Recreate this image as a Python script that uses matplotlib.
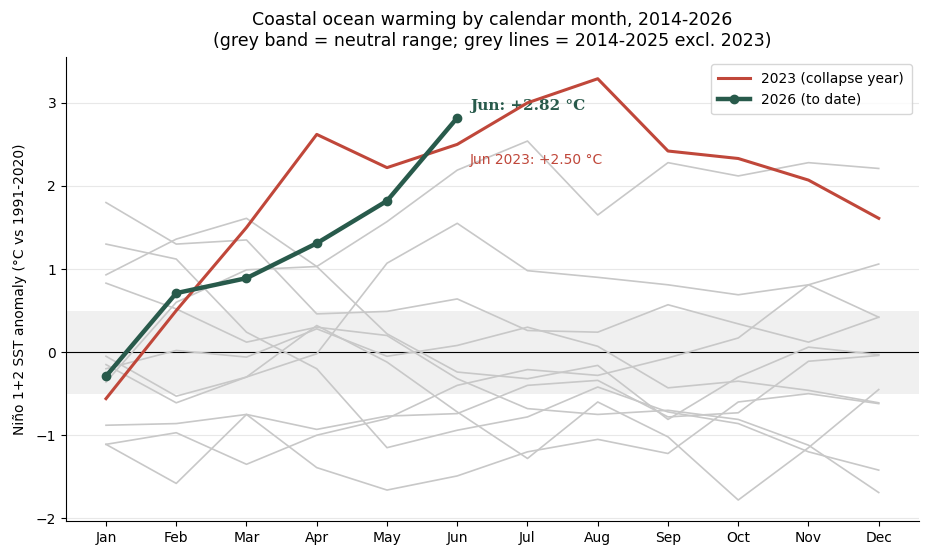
import matplotlib
matplotlib.use("Agg")
import matplotlib.pyplot as plt
import numpy as np

months = ["Jan", "Feb", "Mar", "Apr", "May", "Jun", "Jul", "Aug", "Sep", "Oct", "Nov", "Dec"]

# background years (2014-2025 excl. 2023)
g_a = [0.93, 1.36, 1.61, 1.03, 1.57, 2.19, 2.54, 1.65, 2.28, 2.12, 2.28, 2.21]
g_b = [1.80, 1.30, 1.35, 0.46, 0.49, 0.64, 0.26, 0.24, 0.57, 0.34, 0.12, 0.42]
g_c = [-0.15, -0.61, -0.30, -0.02, 1.07, 1.55, 0.98, 0.90, 0.81, 0.69, 0.81, 1.06]
g_d = [0.83, 0.52, 0.12, 0.30, 0.20, -0.32, -0.68, -0.75, -0.70, -0.81, -1.12, -1.69]
g_e = [-0.36, 0.60, 0.99, 1.03, 0.22, -0.24, -0.32, -0.16, -0.81, -0.30, 0.06, -0.03]
g_f = [1.30, 1.12, 0.24, -0.20, -1.15, -0.94, -0.78, -0.42, -0.72, -0.86, -1.20, -1.42]
g_g = [-0.20, 0.02, -0.06, 0.28, -0.05, 0.08, 0.30, 0.07, -0.43, -0.35, -0.46, -0.61]
g_h = [-0.05, -0.53, -0.30, 0.32, -0.12, -0.72, -1.28, -0.60, -1.02, -1.78, -1.15, -0.45]
g_i = [-0.88, -0.86, -0.75, -0.93, -0.77, -0.74, -0.40, -0.34, -0.78, -0.73, -0.11, -0.04]
g_j = [-1.11, -0.97, -1.35, -1.00, -0.80, -0.40, -0.21, -0.28, -0.07, 0.17, 0.81, 0.42]
g_k = [-1.11, -1.58, -0.75, -1.39, -1.66, -1.49, -1.20, -1.05, -1.22, -0.60, -0.50, -0.62]
bg_series = [g_a, g_b, g_c, g_d, g_e, g_f, g_g, g_h, g_i, g_j, g_k]

y2023 = [-0.56, 0.50, 1.50, 2.62, 2.22, 2.50, 3.00, 3.29, 2.42, 2.33, 2.07, 1.61]
y2026 = [-0.29, 0.71, 0.89, 1.31, 1.82, 2.82]

neutral_low, neutral_high = -0.5, 0.5

RED = "#c0473a"
GREEN = "#285a4b"

fig = plt.figure(figsize=(9.29, 5.6), dpi=100)
ax = fig.add_axes([0.071, 0.070, 0.918, 0.828])

x = np.arange(len(months))
ax.axhspan(neutral_low, neutral_high, color="#f0f0f0", zorder=0, lw=0)
ax.axhline(0, color="black", lw=0.8, zorder=1)

for s in bg_series:
    ax.plot(x, s, color="#c8c8c8", lw=1.2, zorder=2)

ax.plot(x, y2023, color=RED, lw=2.2, zorder=4, label="2023 (collapse year)")
ax.plot(x[:len(y2026)], y2026, color=GREEN, lw=3.2, marker="o", ms=6,
        zorder=5, label="2026 (to date)")

ax.annotate(f"Jun: +{y2026[-1]:.2f} °C", xy=(5, y2026[-1]), xytext=(9, 8.6),
            textcoords="offset points", color=GREEN, fontweight="bold",
            fontsize=11, va="center", ha="left", family="DejaVu Serif")
ax.annotate(f"Jun 2023: +{y2023[5]:.2f} °C", xy=(5, y2023[5]), xytext=(9, -11.5),
            textcoords="offset points", color=RED, fontsize=10,
            va="center", ha="left")

ax.set_xticks(x)
ax.set_xticklabels(months, fontsize=10)
ax.set_yticks([-2, -1, 0, 1, 2, 3])
ax.tick_params(labelsize=10)
ax.set_ylim(-2.03, 3.55)
ax.set_xlim(-0.57, 11.57)
ax.grid(axis="y", color="#e8e8e8", lw=0.8, zorder=0)
ax.set_axisbelow(True)
for sp in ["top", "right"]:
    ax.spines[sp].set_visible(False)

ax.set_ylabel("Niño 1+2 SST anomaly (°C vs 1991-2020)", fontsize=10, labelpad=6)
ax.set_title("Coastal ocean warming by calendar month, 2014-2026\n"
             "(grey band = neutral range; grey lines = 2014-2025 excl. 2023)",
             fontsize=12.5, pad=8)
ax.legend(loc="upper right", fontsize=10, frameon=True, handlelength=2.3,
          borderpad=0.55)

fig.savefig("out.png", dpi=100)
